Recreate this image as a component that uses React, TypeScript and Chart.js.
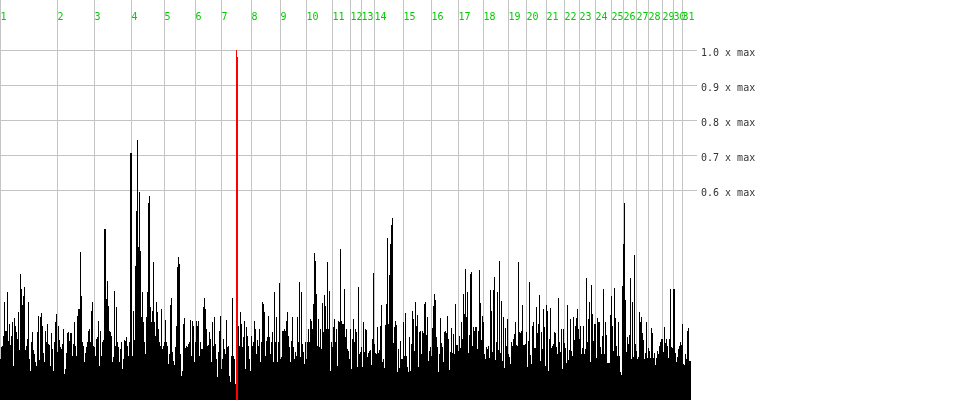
import React, { useEffect, useRef } from 'react';
import { Chart, registerables } from 'chart.js';

Chart.register(...registerables);

// Per-column counts (one bar per column)
const COUNTS_A = [
  41, 53, 54, 64, 98, 69, 69, 108, 59, 76,
  55, 64, 78, 34, 82, 74, 68, 61, 88, 50,
  126, 111, 95, 104, 113, 50, 54, 61, 98, 41,
  29, 58, 68, 50, 46, 38, 34, 68, 84, 40,
  83, 87, 74, 47, 38, 69, 58, 76, 56, 55,
  34, 67, 51, 29, 58, 78, 86, 48, 74, 60,
  53, 51, 56, 71, 26, 31, 47, 67, 68, 59,
  67, 67, 44, 56, 78, 54, 44, 84, 91, 91,
  148, 104, 58, 54, 38, 47, 53, 58, 69, 71,
  58, 89, 98, 54, 53, 44, 61, 63, 79, 34,
  69, 44, 58, 60, 171, 171, 101, 119, 94, 69,
  68, 64, 38, 43, 109, 54, 93, 58, 53, 38,
  51, 58, 31, 41, 60, 59, 63, 54, 44, 58,
  247, 247, 44, 89, 60, 134, 189, 260, 153, 208,
  149, 83, 108, 78, 58, 46, 83, 108, 197, 204,
  93, 78, 89, 138, 78, 64, 98, 88, 71, 58,
  54, 91, 51, 54, 58, 80, 58, 54, 36, 46,
  95, 102, 48, 39, 35,
];

const COUNTS_B = [
  53, 74, 133, 143, 136, 46, 24, 29, 76, 82,
  52, 54, 53, 56, 58, 80, 44, 79, 74, 38,
  58, 79, 74, 79, 44, 58, 51, 51, 93, 102,
  91, 71, 54, 55, 68, 61, 38, 78, 54, 83,
  56, 41, 23, 48, 69, 84, 31, 41, 61, 51,
  46, 80, 53, 54, 24, 18, 44, 102, 44, 41,
  16, 350, 343, 74, 54, 88, 76, 53, 63, 79,
  31, 73, 64, 54, 41, 29, 64, 54, 58, 79,
  71, 46, 60, 54, 71, 38, 58, 98, 96, 88,
  44, 59, 63, 84, 63, 46, 58, 68, 38, 108,
  58, 83, 38, 58, 117, 41, 43, 69, 69, 71,
  69, 79, 88, 64, 53, 38, 59, 83, 53, 41,
  48, 44, 83, 58, 118, 43, 108, 56, 48, 36,
  58, 41, 58, 71, 58, 81, 79, 71, 96, 147,
  139, 106, 54, 81, 53, 71, 51, 97, 68, 105,
  94, 71, 138, 71, 109, 29, 58, 53, 73, 81,
  58, 71, 34, 79, 78, 151, 79, 76, 76, 111,
  63, 71, 51, 49, 41,
];

const COUNTS_C = [
  71, 31, 61, 81, 58, 71, 68, 33, 113, 46,
  48, 53, 33, 78, 48, 71, 70, 43, 47, 49,
  50, 35, 61, 127, 56, 47, 46, 73, 47, 50,
  74, 95, 38, 41, 32, 75, 96, 162, 76, 125,
  156, 175, 182, 57, 73, 79, 75, 28, 51, 32,
  59, 41, 41, 78, 44, 87, 44, 33, 28, 63,
  29, 56, 89, 81, 49, 98, 74, 85, 33, 68,
  69, 46, 69, 67, 96, 98, 65, 83, 39, 49,
  53, 44, 72, 94, 106, 100, 63, 53, 28, 46,
  82, 57, 53, 38, 68, 69, 67, 84, 61, 30,
  48, 72, 47, 66, 46, 96, 55, 55, 49, 64,
  52, 78, 61, 106, 86, 131, 83, 108, 47, 65,
  126, 128, 54, 73, 69, 73, 73, 51, 69, 130,
  97, 60, 84, 78, 46, 41, 53, 51, 54, 42,
  110, 89, 48, 110, 123, 40, 58, 108, 50, 139,
  47, 99, 39, 83, 32, 72, 54, 81, 46, 43,
  36, 58, 54, 61, 66, 78, 55, 54, 138, 68,
  67, 69, 95, 55, 55,
];

const COUNTS_D = [
  56, 68, 33, 59, 118, 45, 36, 74, 78, 52,
  52, 93, 67, 76, 105, 39, 68, 51, 91, 73,
  34, 95, 89, 29, 61, 92, 52, 54, 56, 68,
  67, 53, 46, 102, 58, 48, 71, 31, 71, 57,
  52, 37, 95, 40, 50, 81, 49, 44, 83, 60,
  74, 82, 91, 71, 61, 74, 46, 52, 74, 46,
  51, 122, 58, 81, 98, 38, 115, 86, 59, 76,
  76, 42, 82, 78, 78, 53, 46, 64, 111, 46,
  78, 65, 37, 37, 37, 85, 104, 74, 49, 112,
  82, 54, 44, 78, 44, 28, 25, 114, 156, 197,
  100, 48, 63, 56, 65, 122, 41, 98, 43, 145,
  56, 49, 41, 43, 88, 78, 83, 67, 60, 41,
  47, 78, 42, 52, 49, 42, 72, 67, 42, 47,
  35, 42, 49, 46, 54, 58, 61, 61, 48, 73,
  57, 61, 54, 42, 61, 111, 53, 52, 111, 111,
  47, 38, 43, 51, 54, 58, 55, 76, 36, 35,
  46, 41, 69, 72, 39, 39,
];

// Column index at which each day starts, and its label
const DAY_START = [
  0, 57, 94, 131, 164, 195, 221, 251, 280, 306, 332, 350, 361, 374, 403, 431,
  458, 483, 508, 526, 546, 564, 579, 595, 611, 623, 636, 648, 662, 673, 682,
];
const DAY_LABELS = [
  '1', '2', '3', '4', '5', '6', '7', '8', '9', '10', '11', '12', '13', '14', '15', '16',
  '17', '18', '19', '20', '21', '22', '23', '24', '25', '26', '27', '28', '29', '30', '31',
];

// Horizontal reference levels, as fractions of the maximum
const MAX_LEVELS = [0.6, 0.7, 0.8, 0.9, 1.0];

// Columns drawn in red
const HIGHLIGHT = [236, 237];

export default function App() {
  const ref = useRef<HTMLCanvasElement>(null);

  useEffect(() => {
    const values = [...COUNTS_A, ...COUNTS_B, ...COUNTS_C, ...COUNTS_D];
    const labels = values.map((_, i) => String(i));
    const maxV = Math.max(...values);
    const colors = values.map((_, i) => (HIGHLIGHT.includes(i) ? '#ff0000' : '#000000'));

    const chart = new Chart(ref.current as HTMLCanvasElement, {
      type: 'bar',
      data: {
        labels,
        datasets: [
          {
            data: values,
            backgroundColor: colors,
            borderWidth: 0,
            barPercentage: 1,
            categoryPercentage: 1,
            inflateAmount: 0,
          } as any,
        ],
      },
      options: {
        animation: false,
        responsive: true,
        maintainAspectRatio: false,
        layout: { padding: { left: 0, right: 0, top: 0, bottom: 20 } },
        plugins: { legend: { display: false }, tooltip: { enabled: false } },
        scales: {
          x: {
            type: 'category',
            position: 'top',
            offset: true,
            grid: { color: '#c4c4c4', lineWidth: 1, drawTicks: false, offset: false },
            border: { display: false },
            ticks: {
              autoSkip: false,
              maxRotation: 0,
              minRotation: 0,
              align: 'start',
              mirror: true,
              padding: 11,
              color: '#00cc00',
              font: { family: 'DejaVu Sans Mono', size: 10 },
              callback: (_v: any, i: number) => DAY_LABELS[i],
            },
            afterBuildTicks: (s: any) => {
              s.ticks = DAY_START.map((v) => ({ value: v }));
            },
            afterFit: (s: any) => {
              s.height = 0;
              s.paddingLeft = 0;
              s.paddingRight = 0;
            },
          } as any,
          y: {
            position: 'right',
            min: 0,
            max: maxV / 0.875,
            grid: { color: '#c4c4c4', lineWidth: 1, tickLength: 6 },
            border: { display: false },
            ticks: {
              padding: 4,
              labelOffset: 3,
              color: '#333333',
              font: { family: 'DejaVu Sans Mono', size: 10 },
              callback: (v: any) => `${(Number(v) / maxV).toFixed(1)} x max`,
            },
            afterBuildTicks: (s: any) => {
              s.ticks = MAX_LEVELS.map((k) => ({ value: k * maxV }));
            },
            afterFit: (s: any) => {
              s.width = 269;
              s.paddingTop = 0;
              s.paddingBottom = 0;
            },
          } as any,
        },
      },
    });
    return () => chart.destroy();
  }, []);

  return (
    <div style={{ position: 'fixed', left: 0, top: 0, width: 960, height: 420, background: '#ffffff' }}>
      <canvas ref={ref} />
    </div>
  );
}
